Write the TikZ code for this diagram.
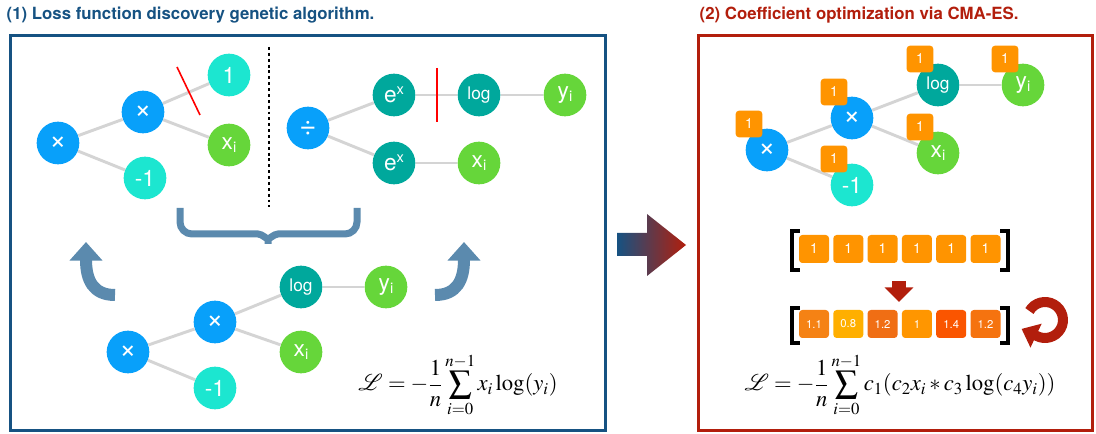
\documentclass[tikz,border=0pt]{standalone}
\usepackage{mathptmx}
\usepackage{mathrsfs}
\usepackage{fontspec}
\setmainfont{Liberation Serif}
\newfontfamily\helv{TeX Gyre Heros}
\usetikzlibrary{arrows.meta,calc}

\definecolor{opblue}{RGB}{8,160,250}
\definecolor{leafcyan}{RGB}{28,230,208}
\definecolor{leafgreen}{RGB}{102,214,58}
\definecolor{opteal}{RGB}{0,168,156}
\definecolor{edgegrey}{RGB}{212,212,212}
\definecolor{steel}{RGB}{91,138,174}
\definecolor{panelblue}{RGB}{22,82,130}
\definecolor{panelred}{RGB}{178,30,12}
\definecolor{badge}{RGB}{255,148,0}
\definecolor{cA}{RGB}{245,130,20}
\definecolor{cB}{RGB}{255,175,0}
\definecolor{cC}{RGB}{240,110,20}
\definecolor{cD}{RGB}{255,150,0}
\definecolor{cE}{RGB}{250,85,0}
\definecolor{cF}{RGB}{245,115,15}

\newcommand\subi{\lower2pt\hbox{\fontsize{11}{11}\selectfont i}}
\newcommand\expx{e\raise6pt\hbox{\fontsize{11}{11}\selectfont x}}
\newcommand\logtxt{{\fontsize{13}{13}\selectfont log}}
\newcommand\optimes{{\fontsize{22}{22}\selectfont ×}}
\newcommand\opdiv{{\fontsize{22}{22}\selectfont ÷}}

\begin{document}
\begin{tikzpicture}[x=0.75pt,y=-0.75pt,
	tnode/.style={circle,fill=#1,minimum size=32pt,inner sep=0pt,text=white,
		font=\helv\fontsize{17}{17}\selectfont},
	edge/.style={draw=edgegrey,line width=2.2pt},
	badgebox/.style={fill=badge,rounded corners=2.5pt,minimum size=20pt,inner sep=0pt,
		text=white,font=\helv\fontsize{10.5}{10.5}\selectfont},
	cell/.style 2 args={fill=#1,rounded corners=2.5pt,minimum width=22.5pt,minimum height=21pt,
		inner sep=0pt,text=white,font=\helv\fontsize{#2}{#2}\selectfont},
	title/.style={anchor=west,font=\helv\bfseries\fontsize{12.6}{12.6}\selectfont},
	brk/.style={line width=2.6pt,line join=miter}]
	\useasboundingbox (0,0) rectangle (1096,434);
	%
	% titles and panels
	\node[title,text=panelblue] (titleA) at (2,15) {(1) Loss function discovery genetic algorithm.};
	\node[title,text=panelred] (titleB) at (695,15) {(2) Coefficient optimization via CMA-ES.};
	\draw[panelblue,line width=2.25pt] (10,36) rectangle (605,431);
	\draw[panelred,line width=2.25pt] (698,36) rectangle (1092,431);
	%
	% nodes of the four trees
	\def\nodes {a1/58/143/opblue/\optimes, a2/143/112/opblue/\optimes, a3/229/75/leafcyan/1,
		a4/229/145/leafgreen/x\subi, a5/145/178/leafcyan/-1,
		b1/308/128/opblue/\opdiv, b2/394/95/opteal/\expx, b3/394/163/opteal/\expx,
		b4/479/95/opteal/\logtxt, b5/565/95/leafgreen/y\subi, b6/479/163/leafgreen/x\subi,
		c1/128/352/opblue/\optimes, c2/215/322/opblue/\optimes, c3/301/287/opteal/\logtxt,
		c4/386/287/leafgreen/y\subi, c5/301/352/leafgreen/x\subi, c6/215/388/leafcyan/-1,
		d1/767/150/opblue/\optimes, d2/852/118/opblue/\optimes, d3/938/85/opteal/\logtxt,
		d4/1023/85/leafgreen/y\subi, d5/938/153/leafgreen/x\subi, d6/852/185/leafcyan/-1}
	\foreach \name/\x/\y/\col/\txt in \nodes{
		\node[tnode=\col] (\name) at (\x,\y) {\txt};
	}
	% grey edges between them
	\def\edges {a1/a2, a1/a5, a2/a3, a2/a4, b1/b2, b1/b3, b2/b4, b4/b5, b3/b6,
		c1/c2, c1/c6, c2/c3, c3/c4, c2/c5, d1/d2, d1/d6, d2/d3, d3/d4, d2/d5}
	\foreach \s/\t in \edges{
		\draw[edge] (\s) -- (\t);
	}
	% cuts and separator
	\draw[red,line width=1.2pt] (177,67) -- (200,115);
	\draw[red,line width=1.2pt] (437,68) -- (437,122);
	\draw[line width=1.2pt,dash pattern=on 2.2pt off 2.2pt] (269,47) -- (269,207);
	%
	% brace and crossover arrows
	\draw[steel,line width=5.25pt,rounded corners=9pt]
		(180,208) -- (180,234) -- (246,234)
		.. controls (262,234) and (268,240) .. (268,251)
		.. controls (268,240) and (274,234) .. (290,234)
		-- (357,234) -- (357,208);
	\draw[steel,line width=9pt,-{Triangle[width=24pt,length=14pt]}]
		(115,295) .. controls (93,295) and (86,280) .. (86,242);
	\draw[steel,line width=9pt,-{Triangle[width=24pt,length=14pt]}]
		(435,295) .. controls (457,295) and (464,280) .. (464,242);
	%
	\node (lossA) at (458,385) {\fontsize{17}{19}\selectfont
		$\displaystyle\mathscr{L} = -\frac{1}{n}\sum_{i=0}^{n-1} x_i\log(y_i)$};
	%
	% arrow between the panels
	\shade[left color=panelblue,right color=panelred]
		(617,233) -- (647,233) -- (647,214) -- (686,245) -- (647,276) -- (647,256) -- (617,256) -- cycle;
	%
	% coefficients of the right tree
	\foreach \name in {d1,d2,d3,d4,d5,d6}{
		\node[badgebox] (k\name) at ($(\name)+(-18,-26)$) {1};
	}
	% coefficient vectors
	\foreach \v [count=\i] in {1,1,1,1,1,1}{
		\node[cell={badge}{10.5}] (p\i) at (779.7+34.3*\i,249) {\v};
	}
	\foreach \v/\col [count=\i] in {1.1/cA, 0.8/cB, 1.2/cC, 1/cD, 1.4/cE, 1.2/cF}{
		\node[cell={\col}{8.5}] (q\i) at (779.7+34.3*\i,324) {\v};
	}
	\draw[brk] (800,231) -- (792,231) -- (792,270) -- (800,270);
	\draw[brk] (1000,231) -- (1008,231) -- (1008,270) -- (1000,270);
	\draw[brk] (800,308) -- (792,308) -- (792,343) -- (800,343);
	\draw[brk] (1000,308) -- (1008,308) -- (1008,343) -- (1000,343);
	\draw[panelred,line width=10pt,-{Triangle[width=21pt,length=11pt]}] (899,281) -- (899,302);
	\draw[panelred,line width=7.5pt,-{Triangle[width=19pt,length=12pt]}]
		(1045,320) ++(-150:18) arc[start angle=-150,end angle=118,radius=18] -- ++(-15,-7);
	%
	\node (lossB) at (900,385) {\fontsize{17}{19}\selectfont
		$\displaystyle\mathscr{L} = -\frac{1}{n}\sum_{i=0}^{n-1} c_1(c_2x_i * c_3\log(c_4y_i))$};
\end{tikzpicture}
\end{document}
